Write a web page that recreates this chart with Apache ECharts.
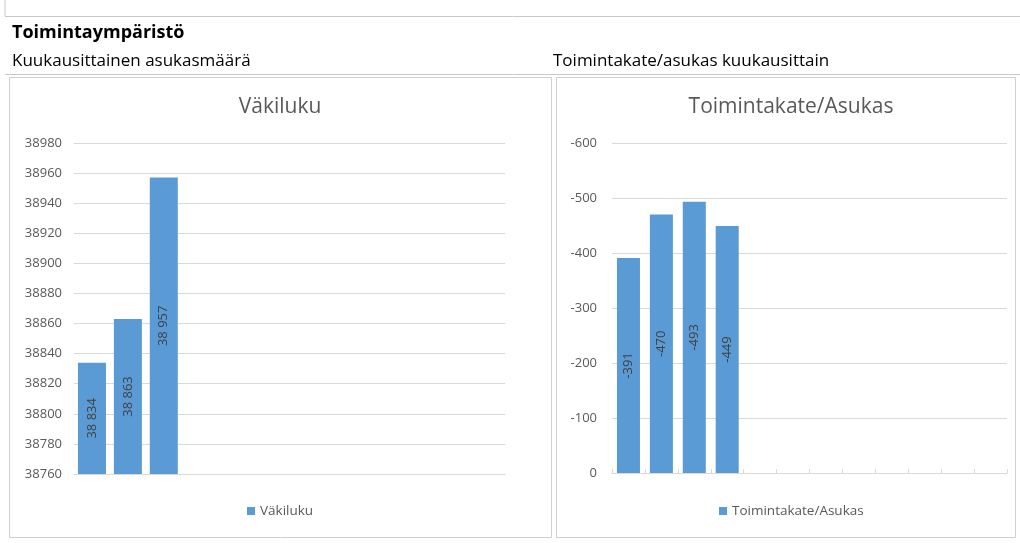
<!DOCTYPE html>
<html>
<head>
<meta charset="utf-8">
<script src="https://cdn.jsdelivr.net/npm/echarts@6/dist/echarts.min.js"></script>
<style>
  html, body { margin: 0; padding: 0; background: #fff; }
  #chart { width: 1020px; height: 543px; }
</style>
</head>
<body>
<div id="chart"></div>
<script>
  // kuukaudet (12 kategoriaa, vain alku täytetty)
  const months = ['Tammi', 'Helmi', 'Maalis', 'Huhti', 'Touko', 'Kesä', 'Heinä', 'Elo', 'Syys', 'Loka', 'Marras', 'Joulu'];
  const vakiluku = [38834, 38863, 38957, null, null, null, null, null, null, null, null, null];
  const toimintakate = [-391, -470, -493, -449, null, null, null, null, null, null, null, null];
  const vakilukuTicks = { min: 38760, max: 38980, interval: 20 };
  const kateTicks = { min: -600, max: 0, interval: 100 };

  const barColor = '#5B9BD5';
  const gridColor = '#d9d9d9';
  const textGray = '#595959';
  const font = 'Open Sans';

  function spaced(v) {
    return String(v).replace(/\B(?=(\d{3})+(?!\d))/g, ' ');
  }

  const chart = echarts.init(document.getElementById('chart'));

  const option = {
    animation: false,
    textStyle: { fontFamily: font },
    title: [
      { text: 'Toimintaympäristö', left: 12, top: 24, padding: 0, textStyle: { fontSize: 18, fontWeight: 'bold', color: '#000', fontFamily: font } },
      { text: 'Kuukausittainen asukasmäärä', left: 12, top: 53, padding: 0, textStyle: { fontSize: 17, fontWeight: 'normal', color: '#000', fontFamily: font } },
      { text: 'Toimintakate/asukas kuukausittain', left: 553, top: 53, padding: 0, textStyle: { fontSize: 17, fontWeight: 'normal', color: '#000', fontFamily: font } },
      { text: 'Väkiluku', left: 280, textAlign: 'center', top: 97, padding: 0, textStyle: { fontSize: 21, fontWeight: 'normal', color: textGray, fontFamily: font } },
      { text: 'Toimintakate/Asukas', left: 791, textAlign: 'center', top: 97, padding: 0, textStyle: { fontSize: 21, fontWeight: 'normal', color: textGray, fontFamily: font } }
    ],
    graphic: [
      { type: 'line', shape: { x1: 5, y1: 0, x2: 5, y2: 16 }, style: { stroke: '#c8c8c8', lineWidth: 1 } },
      { type: 'line', shape: { x1: 5, y1: 16.5, x2: 1020, y2: 16.5 }, style: { stroke: '#c8c8c8', lineWidth: 1 } },
      { type: 'line', shape: { x1: 5, y1: 74.5, x2: 1020, y2: 74.5 }, style: { stroke: '#c8c8c8', lineWidth: 1 } },
      { type: 'rect', shape: { x: 9.5, y: 77.5, width: 542, height: 460 }, style: { fill: 'none', stroke: '#d0d0d0', lineWidth: 1 } },
      { type: 'rect', shape: { x: 556.5, y: 77.5, width: 459, height: 460 }, style: { fill: 'none', stroke: '#d0d0d0', lineWidth: 1 } }
    ],
    legend: [
      {
        data: ['Väkiluku'], left: 247, top: 504, padding: 0,
        itemWidth: 8, itemHeight: 8, itemGap: 6, icon: 'rect',
        textStyle: { color: textGray, fontSize: 13.5, fontFamily: font }
      },
      {
        data: ['Toimintakate/Asukas'], left: 719, top: 504, padding: 0,
        itemWidth: 8, itemHeight: 8, itemGap: 6, icon: 'rect',
        textStyle: { color: textGray, fontSize: 13.5, fontFamily: font }
      }
    ],
    grid: [
      { left: 74, right: 515, top: 143, bottom: 69 },
      { left: 612, right: 13, top: 143, bottom: 70 }
    ],
    xAxis: [
      {
        type: 'category', gridIndex: 0, data: months,
        axisLine: { show: true, lineStyle: { color: gridColor } },
        axisTick: { show: false },
        axisLabel: { show: false }
      },
      {
        type: 'category', gridIndex: 1, data: months,
        axisLine: { show: true, lineStyle: { color: gridColor } },
        axisTick: { show: true, inside: true, length: 4, interval: 0, lineStyle: { color: gridColor } },
        axisLabel: { show: false, interval: 0 }
      }
    ],
    yAxis: [
      {
        type: 'value', gridIndex: 0,
        min: vakilukuTicks.min, max: vakilukuTicks.max, interval: vakilukuTicks.interval,
        axisLine: { show: false }, axisTick: { show: false },
        axisLabel: { color: textGray, fontSize: 13, margin: 12, fontFamily: font, formatter: v => String(v) },
        splitLine: { lineStyle: { color: gridColor } }
      },
      {
        type: 'value', gridIndex: 1, inverse: true,
        min: kateTicks.min, max: kateTicks.max, interval: kateTicks.interval,
        axisLine: { show: false }, axisTick: { show: false },
        axisLabel: { color: textGray, fontSize: 13, margin: 15, fontFamily: font, formatter: v => String(v) },
        splitLine: { lineStyle: { color: gridColor } }
      }
    ],
    series: [
      {
        name: 'Väkiluku', type: 'bar', xAxisIndex: 0, yAxisIndex: 0,
        data: vakiluku, barCategoryGap: '22%',
        itemStyle: { color: barColor },
        label: {
          show: true, position: 'inside', rotate: 90,
          color: '#404040', fontSize: 13, fontFamily: font,
          formatter: p => spaced(p.value)
        }
      },
      {
        name: 'Toimintakate/Asukas', type: 'bar', xAxisIndex: 1, yAxisIndex: 1,
        data: toimintakate, barCategoryGap: '30%',
        itemStyle: { color: barColor },
        label: {
          show: true, position: 'inside', rotate: 90,
          color: '#404040', fontSize: 13, fontFamily: font
        }
      }
    ]
  };

  chart.setOption(option);
</script>
</body>
</html>
